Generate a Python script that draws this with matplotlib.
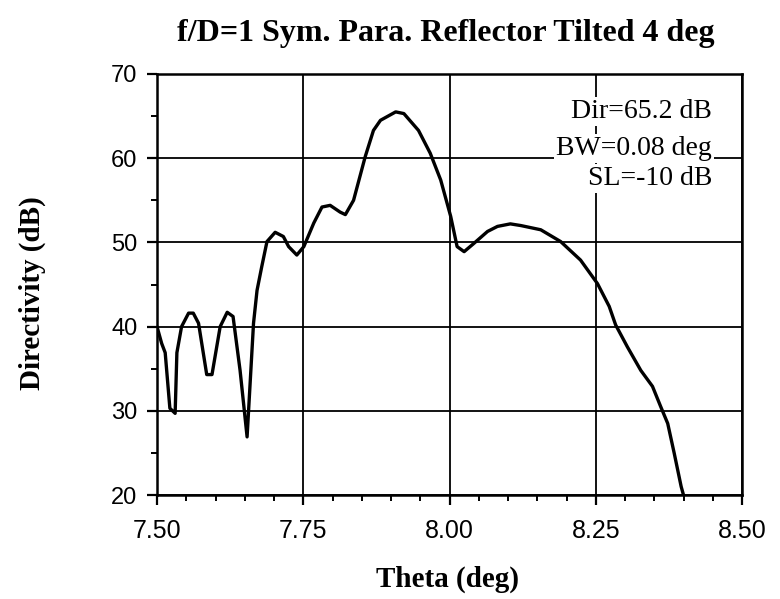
import matplotlib
matplotlib.use("Agg")
import matplotlib.pyplot as plt
from matplotlib.ticker import MultipleLocator

theta = [7.500, 7.508, 7.514, 7.522, 7.531, 7.534, 7.542, 7.554, 7.562, 7.571,
         7.585, 7.594, 7.608, 7.620, 7.630, 7.642, 7.654, 7.665, 7.671, 7.679,
         7.688, 7.702, 7.716, 7.725, 7.739, 7.751, 7.768, 7.782, 7.796, 7.813,
         7.822, 7.836, 7.856, 7.870, 7.882, 7.908, 7.922, 7.947, 7.967, 7.985,
         8.002, 8.013, 8.025, 8.042, 8.065, 8.082, 8.104, 8.122, 8.156, 8.190,
         8.224, 8.253, 8.273, 8.284, 8.304, 8.327, 8.347, 8.361, 8.373, 8.384,
         8.396, 8.400]
directivity = [40.0, 38.0, 36.9, 30.3, 29.7, 36.9, 40.0, 41.6, 41.6, 40.4,
               34.3, 34.3, 40.0, 41.7, 41.2, 34.8, 26.9, 40.4, 44.3, 47.1,
               50.1, 51.2, 50.7, 49.5, 48.5, 49.5, 52.3, 54.2, 54.4, 53.6,
               53.3, 55.0, 60.2, 63.3, 64.5, 65.5, 65.3, 63.3, 60.6, 57.4,
               53.1, 49.5, 48.9, 49.9, 51.3, 51.9, 52.2, 52.0, 51.5, 50.1,
               47.9, 45.1, 42.4, 40.2, 37.6, 34.8, 32.9, 30.5, 28.5, 25.0,
               21.0, 20.0]
x_ticks = [7.50, 7.75, 8.00, 8.25, 8.50]
x_tick_labels = ["7.50", "7.75", "8.00", "8.25", "8.50"]
y_ticks = [20, 30, 40, 50, 60, 70]
annotations = ["Dir=65.2 dB", "BW=0.08 deg", "SL=-10 dB"]

W, H = 780, 599
fig = plt.figure(figsize=(W / 100, H / 100), dpi=100)
ax = fig.add_axes([157 / W, 1 - 495 / H, (742 - 157) / W, (495 - 74) / H])

ax.set_xlim(7.5, 8.5)
ax.set_ylim(20, 70)
ax.set_xticks(x_ticks)
ax.set_xticklabels(x_tick_labels)
ax.set_yticks(y_ticks)
ax.xaxis.set_minor_locator(MultipleLocator(0.05))
ax.yaxis.set_minor_locator(MultipleLocator(5))

ax.grid(True, which="major", color="black", linewidth=1.3)
ax.set_axisbelow(True)

ax.plot(theta, directivity, color="black", linewidth=2.4,
        solid_joinstyle="round", solid_capstyle="round", zorder=3)

for s in ax.spines.values():
    s.set_linewidth(1.8)

ax.tick_params(which="major", direction="out", length=7, width=1.6,
               labelsize=17, pad=7)
ax.tick_params(axis="x", which="major", labelsize=18, pad=10)
ax.tick_params(which="minor", direction="out", length=4, width=1.4)
for lab in ax.get_xticklabels() + ax.get_yticklabels():
    lab.set_fontfamily("Liberation Sans")

serif = "Liberation Serif"
fig.text(446 / W, 1 - 34 / H, "f/D=1 Sym. Para. Reflector Tilted 4 deg",
         ha="center", va="center", fontsize=23, fontweight="bold", family=serif)
fig.text(32 / W, 1 - 293 / H, "Directivity (dB)", rotation=90,
         ha="center", va="center", fontsize=21, fontweight="bold", family=serif)
fig.text(448 / W, 1 - 579 / H, "Theta (deg)",
         ha="center", va="center", fontsize=21, fontweight="bold", family=serif)

baselines = [118, 155, 185]
for txt, yb in zip(annotations, baselines):
    fig.text(712 / W, 1 - yb / H, txt, ha="right", va="baseline",
             fontsize=20, family=serif, zorder=5,
             bbox=dict(facecolor="white", edgecolor="none", pad=1.5))

fig.savefig("out.png", dpi=100)
